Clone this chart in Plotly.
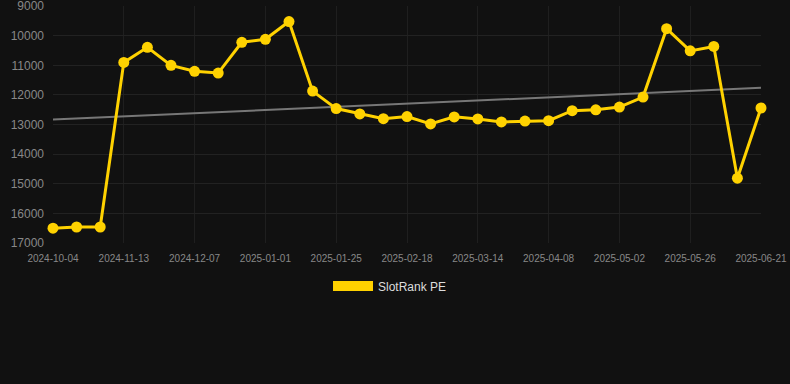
import numpy as np
import plotly.graph_objects as go

dates = [
    "2024-10-04", "2024-10-17", "2024-10-30", "2024-11-13", "2024-11-21", "2024-11-29",
    "2024-12-07", "2024-12-15", "2024-12-23", "2025-01-01", "2025-01-09", "2025-01-17",
    "2025-01-25", "2025-02-02", "2025-02-10", "2025-02-18", "2025-02-26", "2025-03-06",
    "2025-03-14", "2025-03-22", "2025-03-31", "2025-04-08", "2025-04-16", "2025-04-24",
    "2025-05-02", "2025-05-10", "2025-05-18", "2025-05-26", "2025-06-03", "2025-06-12",
    "2025-06-21",
]
slotrank_pe = [
    16500, 16460, 16460, 10900, 10390, 11000, 11200, 11260, 10220, 10120, 9520,
    11870, 12460, 12640, 12800, 12730, 12980, 12740, 12810, 12910, 12880, 12870,
    12530, 12500, 12410, 12070, 9760, 10510, 10360, 14810, 12440,
]
y_ticks = [9000, 10000, 11000, 12000, 13000, 14000, 15000, 16000, 17000]

idx = np.arange(len(slotrank_pe))
slope, intercept = np.polyfit(idx, slotrank_pe, 1)
trend = [intercept + slope * i for i in idx]

GOLD = "#FFD200"
BG = "#111111"

fig = go.Figure()
fig.add_trace(go.Scatter(
    x=dates, y=trend, mode="lines",
    line=dict(color="#777777", width=2),
    showlegend=False, hoverinfo="skip",
))
fig.add_trace(go.Scatter(
    x=dates, y=slotrank_pe, mode="lines+markers",
    line=dict(color=GOLD, width=3),
    marker=dict(color=GOLD, size=11),
    showlegend=False, name="SlotRank PE", cliponaxis=False,
))
fig.add_trace(go.Scatter(
    x=[None], y=[None], mode="lines",
    line=dict(color=GOLD, width=12),
    name="SlotRank PE",
))

fig.update_layout(
    width=790, height=384,
    paper_bgcolor=BG, plot_bgcolor=BG,
    margin=dict(l=53, r=29, t=6, b=141, autoexpand=False),
    font=dict(family="Liberation Sans, Arial, sans-serif", color="#888888"),
    showlegend=True,
    legend=dict(
        orientation="h", x=0.476, xanchor="center", y=-0.12, yanchor="top",
        font=dict(size=12, color="#dddddd"), itemwidth=40,
    ),
)
fig.update_xaxes(
    type="category", range=[0, len(dates) - 1],
    tickmode="array", tickvals=dates[::3], ticktext=dates[::3],
    tickfont=dict(size=10, color="#888888"),
    showgrid=True, gridcolor="#1f1f1f", gridwidth=1,
    zeroline=False, showline=False, ticks="", ticklabelstandoff=8,
    automargin=False, ticklabeloverflow="allow",
)
fig.update_yaxes(
    range=[17000, 8995], tickvals=y_ticks, tickformat="d",
    tickfont=dict(size=12, color="#888888"),
    showgrid=True, gridcolor="#222222", gridwidth=1,
    zeroline=False, showline=False, ticks="", ticklabelstandoff=8,
    automargin=False, ticklabeloverflow="allow",
)

fig.write_html(
    "out.html",
    config={"displayModeBar": False},
    post_script="document.body.style.margin='0';document.body.style.background='#111111';",
)
